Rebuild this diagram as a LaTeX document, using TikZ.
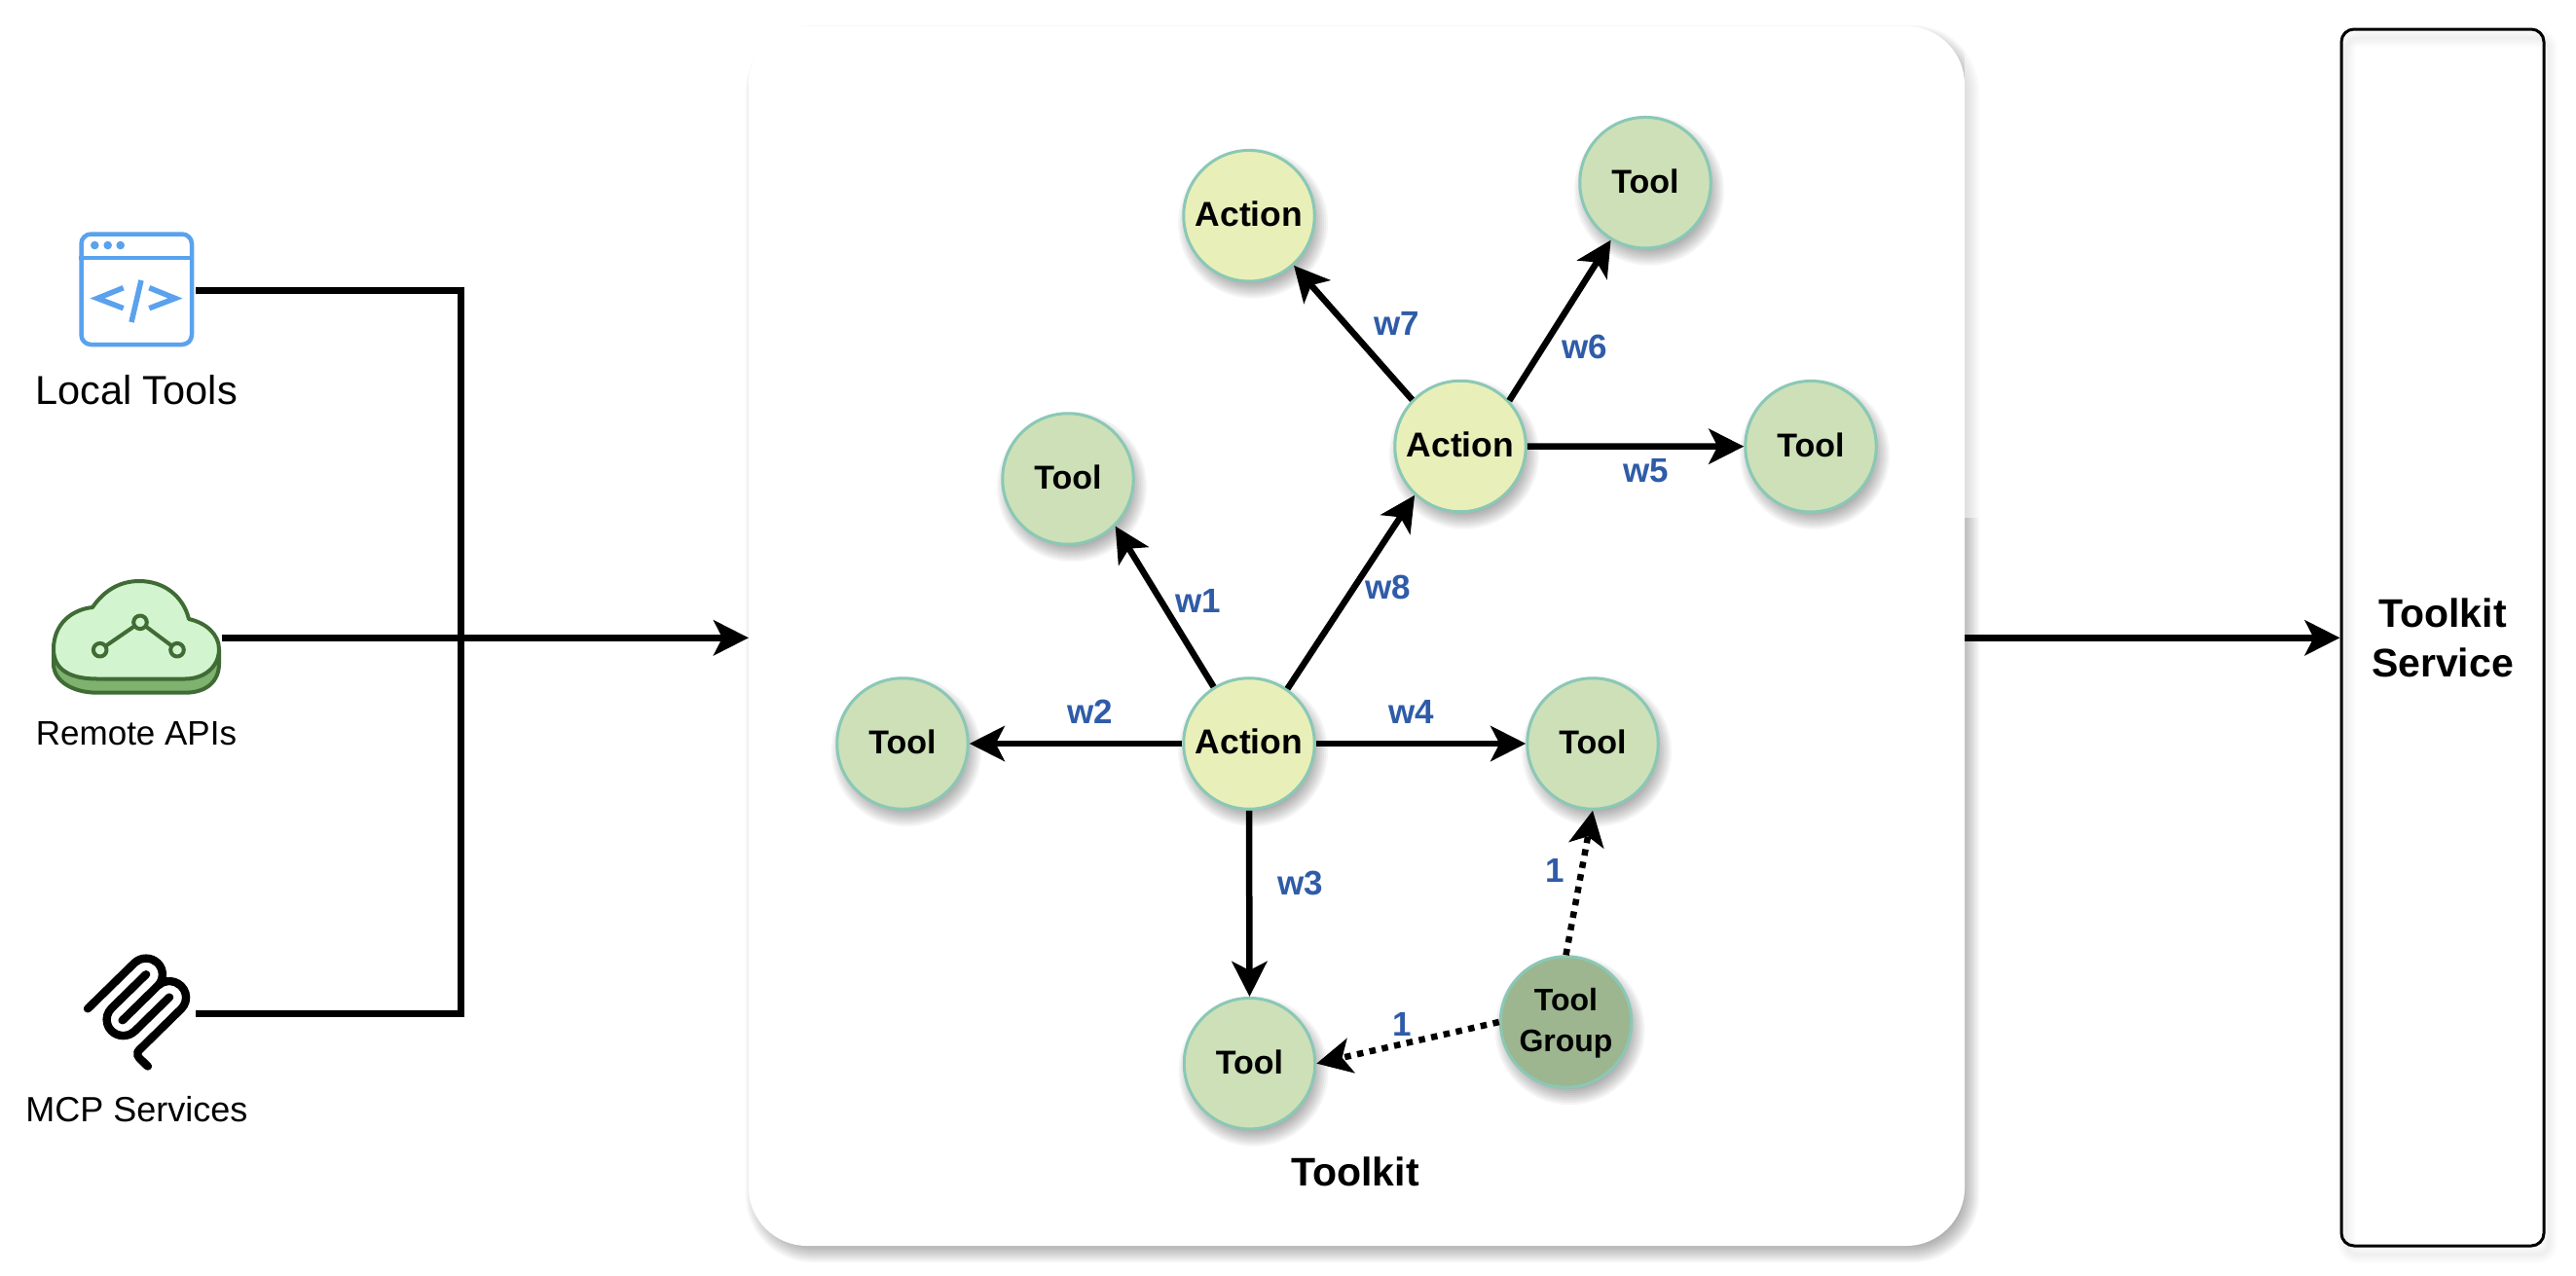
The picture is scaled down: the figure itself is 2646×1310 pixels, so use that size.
\documentclass[tikz,border=0pt]{standalone}
\usepackage{fontspec}
\setmainfont{Liberation Sans}
\usetikzlibrary{arrows.meta,svg.path}
\definecolor{toolfill}{HTML}{CDE0B7}
\definecolor{actionfill}{HTML}{E9EFB8}
\definecolor{groupfill}{HTML}{9DB68F}
\definecolor{nodeline}{HTML}{8AC8B6}
\definecolor{weightblue}{HTML}{2F5CA8}
\definecolor{iconblue}{HTML}{5AA2EE}
\definecolor{clouddark}{HTML}{3F6B35}
\definecolor{cloudlight}{HTML}{D2F4CE}
\definecolor{cloudmid}{HTML}{7FB26F}
\tikzset{
  gnodebase/.style={circle,draw=nodeline,line width=3pt,minimum size=134.5pt,inner sep=0pt,align=center,
    font=\fontsize{34}{42}\selectfont\bfseries,text depth=4pt},
  toolnode/.style={gnodebase,fill=toolfill},
  actionnode/.style={gnodebase,fill=actionfill,font=\fontsize{35.5}{42}\selectfont\bfseries},
  groupnode/.style={gnodebase,fill=groupfill,text depth=4pt,font=\fontsize{32}{42}\selectfont\bfseries},
  lab/.style={font=\fontsize{35}{40}\selectfont\bfseries,text=weightblue,inner sep=0pt},
  wire/.style={line width=6.5pt,-{Stealth[length=36pt,width=36pt,inset=9pt]}},
  dotwire/.style={wire,dash pattern=on 6.5pt off 6.5pt},
  plainwire/.style={line width=6.5pt},
  title/.style={font=\fontsize{41}{51}\selectfont\bfseries,align=center,inner sep=0pt},
  iconlab/.style={inner sep=0pt,align=center},
  winline/.style={draw=iconblue,line width=4.5pt},
  cloudline/.style={draw=clouddark,line width=4pt,line join=round}
}
\newcommand\gnode[5]{%
  \foreach \k in {0,...,9}{\fill[black,opacity=.04] (#2+4,#3+8) circle[radius={77-2*\k}];}%
  \node[#4] (#1) at (#2,#3) {#5};}
\begin{document}
\begin{tikzpicture}[x=1pt,y=-1pt]
\useasboundingbox (0,0) rectangle (2646,1310);
\fill[white] (0,0) rectangle (2646,1310);
% toolkit panel shadow
\foreach \k in {0,...,9}{
  \fill[black,opacity=.035,rounded corners={60pt+(9-2*\k)*1pt}]
    ({769+6-9+2*\k},{27+8-9+2*\k}) rectangle ({2018+6+9-2*\k},{1280+8+9-2*\k});}
\fill[white,opacity=.5] (2018,0) rectangle (2050,532);
\node[fill=white,rectangle,rounded corners=60pt,minimum width=1249pt,minimum height=1253pt,inner sep=0pt,outer sep=0pt] (toolkit) at (1393.5,653.5) {};
% service shadow
\foreach \k in {0,...,7}{
  \draw[black,opacity=.008,line width={2pt+2.4pt*\k},rounded corners=12pt] (2410,39) rectangle (2618,1289);}
\node[draw=black,line width=3pt,rectangle,rounded corners=13pt,minimum width=208pt,minimum height=1250pt,inner sep=0pt,title] (service) at (2509,655) {Toolkit\\Service};
\node[title] (toolkitlabel) at (1392,1204) {Toolkit};
% graph nodes
\gnode{acenter}{1283}{764}{actionnode}{Action}
\gnode{atop}{1500}{458.5}{actionnode}{Action}
\gnode{aleft}{1283}{221.7}{actionnode}{Action}
\gnode{ttop}{1690}{187.7}{toolnode}{Tool}
\gnode{tright}{1860}{458.7}{toolnode}{Tool}
\gnode{tupper}{1097}{492}{toolnode}{Tool}
\gnode{tleft}{927}{764}{toolnode}{Tool}
\gnode{tmid}{1636}{764}{toolnode}{Tool}
\gnode{tbottom}{1283.5}{1092.7}{toolnode}{Tool}
\gnode{group}{1608.5}{1050}{groupnode}{Tool\\Group}
% graph edges
\draw[wire] (acenter.122) -- (tupper.-45.6);
\draw[wire] (acenter.west) -- (tleft.east);
\draw[wire] (acenter.south) -- (tbottom.north);
\draw[wire] (acenter.east) -- (tmid.west);
\draw[wire] (acenter.55.7) -- (atop.-133.3);
\draw[wire] (atop.east) -- (tright.west);
\draw[wire] (atop.43.7) -- (ttop.-121.7);
\draw[wire] (atop.136.3) -- (aleft.-48.3);
\draw[dotwire] (group.north) -- (tmid.south);
\draw[dotwire] (group.west) -- (tbottom.east);
% edge labels
\node[lab] (w1) at (1231,617) {w1};
\node[lab] (w2) at (1120,731) {w2};
\node[lab] (w3) at (1336,907) {w3};
\node[lab] (w4) at (1450,731) {w4};
\node[lab] (w5) at (1691,484) {w5};
\node[lab] (w6) at (1628,356) {w6};
\node[lab] (w7) at (1435,332) {w7};
\node[lab] (w8) at (1426,603) {w8};
\node[lab] (one1) at (1597,894) {1};
\node[lab] (one2) at (1440,1052) {1};
% local tools icon
\node[winline,rectangle,rounded corners=10pt,minimum width=113.5pt,minimum height=113.5pt,inner sep=0pt] (win) at (140.25,297.25) {};
\draw[winline] (win.west |- 0,265) -- (win.east |- 0,265);
\fill[iconblue] (97.3,252) circle[radius=4.3] (110.7,252) circle[radius=4.3] (123.7,252) circle[radius=4.3];
\draw[winline,line width=5.5pt] (126.7,295.7) -- (100,306.5) -- (126.7,316.7);
\draw[winline,line width=5.5pt] (145,288) -- (135,331);
\draw[winline,line width=5.5pt] (153.3,295.7) -- (180,306.5) -- (153.3,316.7);
\node[iconlab,font=\fontsize{41.5}{46}\selectfont] (localtools) at (140,401) {Local Tools};
% cloud icon
\fill[cloudmid,cloudline] (55,667) -- (55,682) .. controls (55,700) and (75,711.7) .. (100,711.7) -- (190,711.7) .. controls (212,711.7) and (225,700) .. (225,682) -- (225,667) -- cycle;
\fill[cloudlight,cloudline] (55,667) .. controls (55,640) and (75,626) .. (95,624)
  .. controls (108,605) and (125,597) .. (143,597) .. controls (168,597) and (188,612) .. (194,636)
  .. controls (212,640) and (225,652) .. (225,667) .. controls (225,685) and (210,697.5) .. (190,697.5)
  -- (100,697.5) .. controls (75,697.5) and (55,690) .. (55,667) -- cycle;
\draw[cloudline] (102.7,667.7) -- (144,639.3) -- (182,667.7);
\filldraw[fill=cloudlight,cloudline] (102.7,667.7) circle[radius=6.8] (144,639.3) circle[radius=6.8] (182,667.7) circle[radius=6.8];
\node[iconlab,font=\fontsize{35}{42}\selectfont] (remoteapis) at (140,754) {Remote APIs};
% mcp icon
\begin{scope}[shift={(81,980.7)},xscale=4.97,yscale=-4.97]
\fill[black] svg "M 15.688 2.343 a 2.588 2.588 0 0 0 -3.61 0 l -9.626 9.44 a 0.863 0.863 0 0 1 -1.203 0 a 0.823 0.823 0 0 1 0 -1.18 l 9.626 -9.44 a 4.313 4.313 0 0 1 6.016 0 a 4.116 4.116 0 0 1 1.204 3.54 a 4.3 4.3 0 0 1 3.609 1.18 l 0.05 0.05 a 4.115 4.115 0 0 1 0 5.9 l -8.706 8.537 a 0.274 0.274 0 0 0 0 0.393 l 1.788 1.754 a 0.823 0.823 0 0 1 0 1.18 a 0.863 0.863 0 0 1 -1.203 0 l -1.788 -1.753 a 1.92 1.92 0 0 1 0 -2.754 l 8.706 -8.538 a 2.47 2.47 0 0 0 0 -3.54 l -0.05 -0.049 a 2.588 2.588 0 0 0 -3.607 -0.003 l -7.172 7.034 l -0.002 0.002 l -0.098 0.097 a 0.863 0.863 0 0 1 -1.204 0 a 0.823 0.823 0 0 1 0 -1.18 l 7.273 -7.133 a 2.47 2.47 0 0 0 -0.003 -3.537 z";
\fill[black] svg "M 14.485 4.703 a 0.823 0.823 0 0 0 0 -1.18 a 0.863 0.863 0 0 0 -1.204 0 l -7.119 6.982 a 4.115 4.115 0 0 0 0 5.9 a 4.314 4.314 0 0 0 6.016 0 l 7.12 -6.982 a 0.823 0.823 0 0 0 0 -1.18 a 0.863 0.863 0 0 0 -1.204 0 l -7.119 6.982 a 2.588 2.588 0 0 1 -3.61 0 a 2.47 2.47 0 0 1 0 -3.54 l 7.12 -6.982 z";
\end{scope}
\node[iconlab,font=\fontsize{36}{42}\selectfont] (mcpservices) at (140.5,1140) {MCP Services};
% collector connectors
\coordinate (localout) at (201,298.7);
\coordinate (cloudout) at (227.7,655.3);
\coordinate (mcpout) at (201,1041.7);
\coordinate (collect) at (473.5,655.3);
\draw[plainwire,line join=miter] (localout) -| (collect);
\draw[plainwire,line join=miter] (mcpout) -| (collect);
\draw[wire] (cloudout) -- (collect -| toolkit.west);
\draw[wire] (collect -| toolkit.east) -- (collect -| service.west);
\end{tikzpicture}
\end{document}
